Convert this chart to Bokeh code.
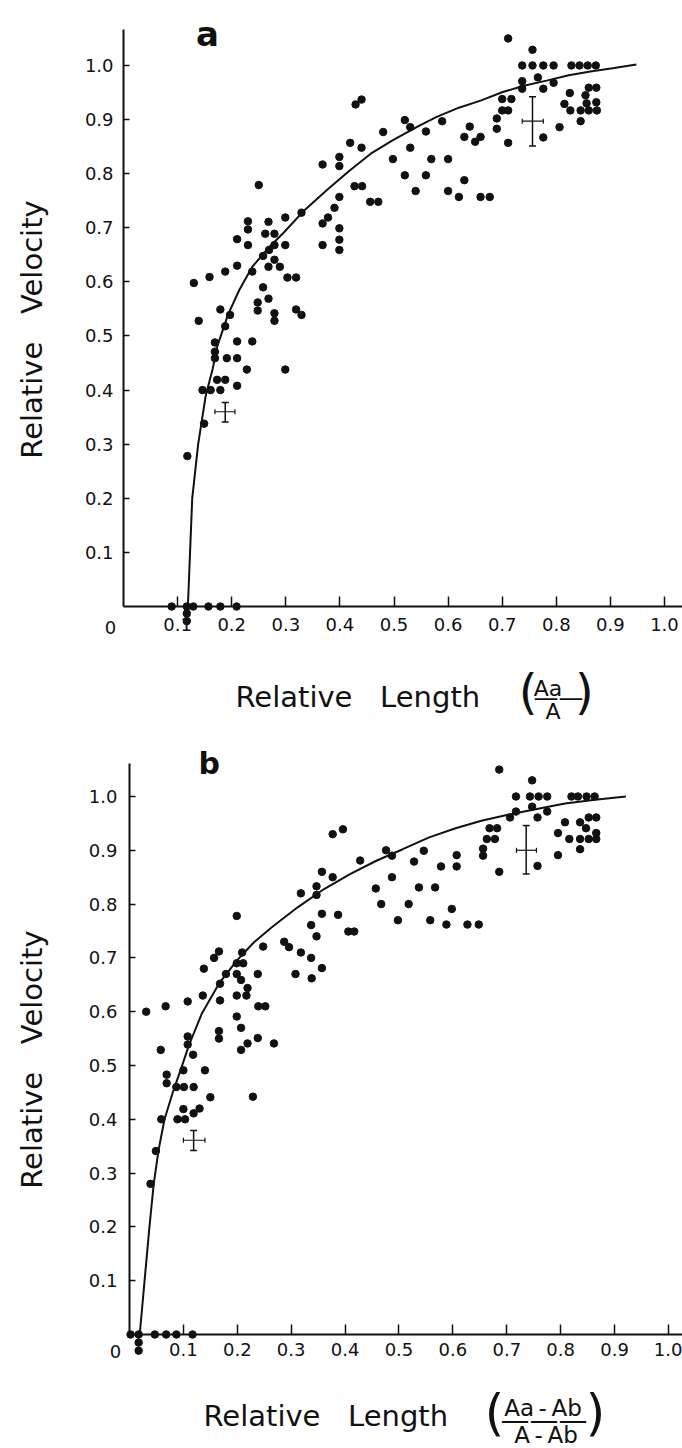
import math
from bokeh.plotting import figure
from bokeh.layouts import column
from bokeh.models import (Range1d, LinearAxis, FixedTicker, PrintfTickFormatter, Label,
                          Whisker, TeeHead, ColumnDataSource)
from bokeh.embed import file_html
from bokeh.resources import INLINE

# ---------------- data : panel a ----------------
a_x = [0.711, 0.756, 0.737, 0.756, 0.776, 0.795, 0.828, 0.843, 0.858, 0.873,
       0.737, 0.737, 0.766, 0.776, 0.795, 0.825, 0.860, 0.874, 0.854, 0.815,
       0.856, 0.874, 0.826, 0.845, 0.860, 0.875, 0.845, 0.806, 0.776,
       0.700, 0.717, 0.700, 0.711, 0.690, 0.690, 0.711,
       0.640, 0.630, 0.650, 0.660, 0.630, 0.660, 0.677,
       0.589, 0.559, 0.530, 0.520, 0.530, 0.498, 0.569, 0.600,
       0.520, 0.559, 0.540, 0.600, 0.620, 0.480,
       0.440, 0.429, 0.419, 0.440, 0.368, 0.399, 0.399, 0.427, 0.441,
       0.456, 0.471, 0.399, 0.390, 0.378, 0.368, 0.399, 0.399, 0.399, 0.368,
       0.329, 0.299, 0.299, 0.268, 0.262, 0.279, 0.250,
       0.230, 0.230, 0.230, 0.210, 0.279, 0.269, 0.258, 0.279, 0.268, 0.289,
       0.238, 0.210, 0.188, 0.159, 0.130, 0.303, 0.319, 0.258,
       0.248, 0.248, 0.268, 0.279, 0.279, 0.319, 0.329, 0.139, 0.179, 0.197,
       0.188, 0.210, 0.238, 0.169, 0.169, 0.169, 0.191, 0.210,
       0.228, 0.299, 0.173, 0.188, 0.146, 0.161, 0.179, 0.210, 0.149, 0.118,
       0.089, 0.117, 0.129, 0.157, 0.179, 0.209, 0.117, 0.117]
a_y = [1.050, 1.029, 1.0, 1.0, 1.0, 1.0, 1.0, 1.0, 1.0, 1.0,
       0.971, 0.957, 0.978, 0.957, 0.968, 0.949, 0.959, 0.959, 0.945, 0.929,
       0.930, 0.932, 0.917, 0.917, 0.917, 0.917, 0.897, 0.886, 0.867,
       0.938, 0.938, 0.917, 0.917, 0.902, 0.883, 0.857,
       0.887, 0.868, 0.859, 0.868, 0.788, 0.757, 0.757,
       0.897, 0.878, 0.886, 0.899, 0.848, 0.827, 0.827, 0.827,
       0.797, 0.797, 0.768, 0.768, 0.757, 0.877,
       0.937, 0.928, 0.857, 0.848, 0.817, 0.831, 0.814, 0.777, 0.777,
       0.748, 0.748, 0.757, 0.737, 0.719, 0.708, 0.699, 0.678, 0.659, 0.668,
       0.728, 0.719, 0.668, 0.711, 0.689, 0.689, 0.779,
       0.712, 0.697, 0.668, 0.679, 0.668, 0.659, 0.648, 0.641, 0.628, 0.628,
       0.619, 0.630, 0.619, 0.609, 0.598, 0.608, 0.608, 0.590,
       0.562, 0.547, 0.569, 0.542, 0.528, 0.549, 0.539, 0.528, 0.549, 0.539,
       0.518, 0.490, 0.490, 0.488, 0.471, 0.459, 0.459, 0.459,
       0.438, 0.438, 0.419, 0.419, 0.400, 0.400, 0.400, 0.408, 0.338, 0.278,
       0.0, 0.0, 0.0, 0.0, 0.0, 0.0, -0.013, -0.027]

a_curve_x = [0.119, 0.123, 0.127, 0.138, 0.152, 0.165, 0.173, 0.193, 0.214, 0.238,
             0.270, 0.295, 0.335, 0.376, 0.417, 0.457, 0.498, 0.547, 0.579, 0.620,
             0.660, 0.701, 0.742, 0.782, 0.823, 0.863, 0.904, 0.948]
a_curve_y = [0.0, 0.10, 0.20, 0.30, 0.39, 0.44, 0.48, 0.539, 0.585, 0.628,
             0.665, 0.690, 0.733, 0.770, 0.805, 0.837, 0.862, 0.889, 0.905, 0.922,
             0.935, 0.951, 0.963, 0.972, 0.982, 0.989, 0.995, 1.002]

a_err_x = [0.188, 0.756]
a_err_y = [0.360, 0.897]
a_err_ylo = [0.341, 0.851]
a_err_yhi = [0.377, 0.942]
a_err_xlo = [0.169, 0.737]
a_err_xhi = [0.206, 0.776]

# ---------------- data : panel b ----------------
b_x = [0.686, 0.747, 0.717, 0.743, 0.759, 0.775, 0.820, 0.832, 0.848, 0.863,
       0.747, 0.717, 0.706, 0.757, 0.775, 0.808, 0.836, 0.852, 0.866,
       0.795, 0.847, 0.866, 0.816, 0.836, 0.852, 0.866, 0.836, 0.795, 0.757, 0.686,
       0.668, 0.682, 0.663, 0.678, 0.656, 0.656, 0.607, 0.607, 0.578,
       0.546, 0.528, 0.476, 0.487, 0.487, 0.457, 0.537, 0.567,
       0.467, 0.518, 0.498, 0.558, 0.588, 0.598, 0.627, 0.648,
       0.428, 0.377, 0.396, 0.357, 0.377, 0.347, 0.347, 0.318,
       0.387, 0.357, 0.406, 0.417, 0.337, 0.347, 0.287, 0.296, 0.318, 0.337,
       0.308, 0.338, 0.357, 0.199, 0.248, 0.209, 0.199, 0.211, 0.166, 0.157,
       0.138, 0.179, 0.199, 0.207, 0.219, 0.217, 0.199, 0.238, 0.168, 0.168,
       0.136, 0.108, 0.239, 0.252, 0.067, 0.031, 0.199, 0.207, 0.166, 0.166,
       0.219, 0.207, 0.238, 0.268, 0.108, 0.108, 0.118, 0.058,
       0.069, 0.069, 0.100, 0.140, 0.087, 0.101, 0.119, 0.150, 0.229,
       0.100, 0.130, 0.059, 0.089, 0.103, 0.119, 0.049, 0.039,
       0.002, 0.017, 0.047, 0.068, 0.087, 0.117, 0.017, 0.017]
b_y = [1.050, 1.030, 1.0, 1.0, 1.0, 1.0, 1.0, 1.0, 1.0, 1.0,
       0.981, 0.972, 0.961, 0.961, 0.972, 0.952, 0.952, 0.961, 0.961,
       0.932, 0.941, 0.932, 0.921, 0.921, 0.921, 0.921, 0.902, 0.891, 0.871, 0.860,
       0.941, 0.941, 0.921, 0.921, 0.903, 0.890, 0.891, 0.870, 0.870,
       0.899, 0.879, 0.900, 0.890, 0.850, 0.829, 0.831, 0.831,
       0.800, 0.800, 0.770, 0.770, 0.762, 0.791, 0.762, 0.762,
       0.881, 0.930, 0.939, 0.860, 0.850, 0.833, 0.817, 0.820,
       0.780, 0.782, 0.749, 0.749, 0.761, 0.740, 0.730, 0.720, 0.710, 0.700,
       0.670, 0.662, 0.681, 0.778, 0.721, 0.710, 0.690, 0.690, 0.712, 0.700,
       0.680, 0.670, 0.670, 0.659, 0.644, 0.630, 0.630, 0.670, 0.652, 0.621,
       0.630, 0.619, 0.610, 0.610, 0.610, 0.600, 0.591, 0.570, 0.564, 0.550,
       0.541, 0.529, 0.551, 0.541, 0.554, 0.539, 0.520, 0.529,
       0.483, 0.467, 0.491, 0.491, 0.460, 0.460, 0.460, 0.441, 0.442,
       0.419, 0.420, 0.400, 0.400, 0.400, 0.411, 0.341, 0.280,
       0.0, 0.0, 0.0, 0.0, 0.0, 0.0, -0.015, -0.030]

b_curve_x = [0.019, 0.028, 0.037, 0.045, 0.054, 0.065, 0.081, 0.097, 0.110, 0.134,
             0.166, 0.199, 0.231, 0.264, 0.312, 0.361, 0.410, 0.459, 0.507, 0.556,
             0.605, 0.653, 0.702, 0.751, 0.808, 0.864, 0.921]
b_curve_y = [0.0, 0.10, 0.20, 0.28, 0.343, 0.40, 0.452, 0.498, 0.537, 0.596,
             0.652, 0.695, 0.729, 0.757, 0.794, 0.828, 0.856, 0.881, 0.902, 0.924,
             0.941, 0.955, 0.966, 0.976, 0.987, 0.994, 1.0]

b_err_x = [0.119, 0.736]
b_err_y = [0.361, 0.900]
b_err_ylo = [0.342, 0.856]
b_err_yhi = [0.379, 0.946]
b_err_xlo = [0.100, 0.718]
b_err_xhi = [0.140, 0.755]

# ---------------- ticks / texts ----------------
x_ticks = [0.1, 0.2, 0.3, 0.4, 0.5, 0.6, 0.7, 0.8, 0.9, 1.0]
y_ticks = [0.1, 0.2, 0.3, 0.4, 0.5, 0.6, 0.7, 0.8, 0.9, 1.0]
GAP = "\u00a0\u00a0\u00a0"
y_title = "Relative" + GAP + "Velocity"
x_title = "Relative" + GAP + "Length"
THIN = "\u2009"
a_num, a_den = "Aa", "A"
b_num, b_den = "Aa" + THIN + "-" + THIN + "Ab", "A" + THIN + "-" + THIN + "Ab"

FONT = "DejaVu Sans"
INK = "#111111"
DASH = "\u2014"


def lab(p, x, y, text, size, align="center", baseline="middle", angle=0.0, style="normal"):
    p.add_layout(Label(x=x, y=y, text=text, text_font=FONT, text_font_size=size,
                       text_align=align, text_baseline=baseline, angle=angle,
                       text_color=INK, text_font_style=style))


def panel(xr, yr, ytop, px, py, cx, cy, ex, ey, eylo, eyhi, exlo, exhi, xstand, ystand):
    p = figure(width=682, height=724, x_range=Range1d(*xr), y_range=Range1d(*yr),
               output_backend="svg", toolbar_location=None, min_border=0,
               x_axis_location=None, y_axis_location=None)
    p.outline_line_color = None
    p.background_fill_color = "white"
    p.border_fill_color = "white"
    p.grid.visible = False

    xa = LinearAxis(fixed_location=0, bounds=(0, xr[1]),
                    ticker=FixedTicker(ticks=x_ticks),
                    formatter=PrintfTickFormatter(format="%.1f"))
    ya = LinearAxis(fixed_location=0, bounds=(0, ytop),
                    ticker=FixedTicker(ticks=y_ticks),
                    formatter=PrintfTickFormatter(format="%.1f"))
    for ax in (xa, ya):
        ax.axis_line_width = 2
        ax.axis_line_color = INK
        ax.major_tick_line_width = 1.5
        ax.major_tick_line_color = INK
        ax.major_tick_out = 0
        ax.minor_tick_line_color = None
        ax.major_label_text_font = FONT
        ax.major_label_text_font_size = "18px"
        ax.major_label_text_color = INK
    xa.major_tick_in = 10
    ya.major_tick_in = 6
    xa.major_label_standoff = xstand
    ya.major_label_standoff = ystand
    p.add_layout(xa, "below")
    p.add_layout(ya, "left")

    p.line(cx, cy, line_color=INK, line_width=2)
    p.scatter(px, py, size=7.5, marker="circle", fill_color=INK, line_color=INK)

    src = ColumnDataSource(dict(x=ex, y=ey, ylo=eylo, yhi=eyhi, xlo=exlo, xhi=exhi))
    p.add_layout(Whisker(source=src, base="x", lower="ylo", upper="yhi", dimension="height",
                         line_color=INK, line_width=1.5,
                         upper_head=TeeHead(size=7, line_width=1.5, line_color=INK),
                         lower_head=TeeHead(size=7, line_width=1.5, line_color=INK)))
    p.add_layout(Whisker(source=src, base="y", lower="xlo", upper="xhi", dimension="width",
                         line_color=INK, line_width=1.2,
                         upper_head=TeeHead(size=5, line_width=1.2, line_color=INK),
                         lower_head=TeeHead(size=5, line_width=1.2, line_color=INK)))
    return p


# ---------------- panel a ----------------
pa = panel((-0.2274, 1.0333), (-0.2181, 1.1201), 1.066, a_x, a_y, a_curve_x, a_curve_y,
           a_err_x, a_err_y, a_err_ylo, a_err_yhi, a_err_xlo, a_err_xhi, 11, 10)
lab(pa, 0.155, 1.0586, "a", "34px", baseline="alphabetic", style="bold")
lab(pa, -0.024, -0.0397, "0", "18px")
lab(pa, -0.169, 0.512, y_title, "29px", angle=math.pi / 2)
lab(pa, 0.207, -0.1664, x_title, "29px", align="left", baseline="alphabetic")
lab(pa, 0.7477, -0.158, "(", "48px")
lab(pa, 0.8521, -0.158, ")", "48px")
lab(pa, 0.7847, -0.1516, a_num, "22px", baseline="alphabetic")
lab(pa, 0.804, -0.1676, DASH * 2, "25px", baseline="alphabetic")
lab(pa, 0.7939, -0.1932, a_den, "22px", baseline="alphabetic")

# ---------------- panel b ----------------
pb = panel((-0.2393, 1.026), (-0.2119, 1.1338), 1.061, b_x, b_y, b_curve_x, b_curve_y,
           b_err_x, b_err_y, b_err_ylo, b_err_yhi, b_err_xlo, b_err_xhi, 9, 12)
lab(pb, 0.148, 1.0608, "b", "30px", baseline="alphabetic", style="bold")
lab(pb, -0.026, -0.0325, "0", "18px")
lab(pb, -0.181, 0.511, y_title, "29px", angle=math.pi / 2)
lab(pb, 0.1373, -0.1506, x_title, "29px", align="left", baseline="alphabetic")
lab(pb, 0.6772, -0.1459, "(", "50px")
lab(pb, 0.8646, -0.1459, ")", "50px")
lab(pb, 0.7672, -0.1357, b_num, "23px", baseline="alphabetic")
lab(pb, 0.769, -0.1593, DASH * 3, "29px", baseline="alphabetic")
lab(pb, 0.7727, -0.1877, b_den, "23px", baseline="alphabetic")

layout = column(pa, pb, spacing=0)
open("out.html", "w").write(file_html(layout, INLINE))
